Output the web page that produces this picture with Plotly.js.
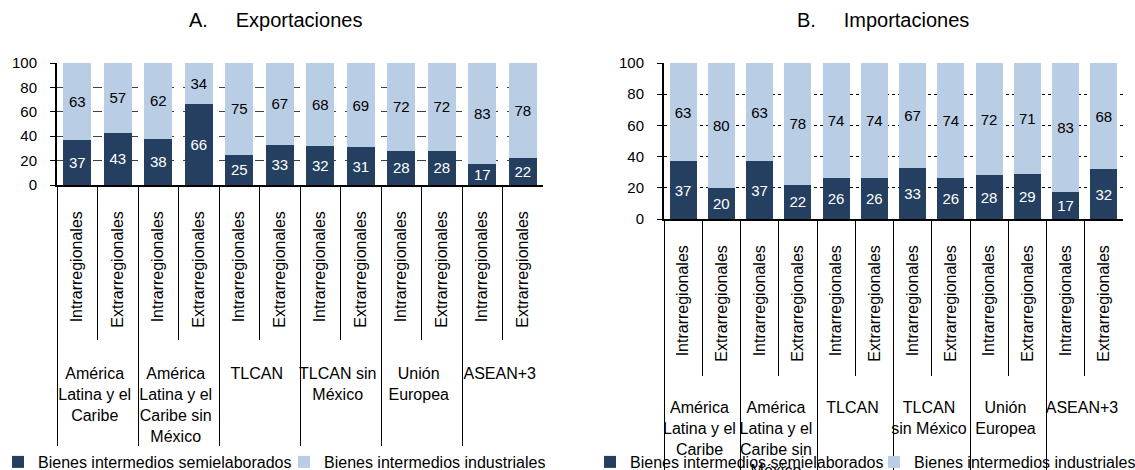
<!DOCTYPE html>
<html>
<head>
<meta charset="utf-8">
<script src="https://cdn.plot.ly/plotly-3.0.1.min.js"></script>
<style>html,body{margin:0;padding:0;background:#fff}#chart{width:1135px;height:470px}</style>
</head>
<body>
<div id="chart"></div>
<script>
const groupsA = ["América<br>Latina y el<br>Caribe", "América<br>Latina y el<br>Caribe sin<br>México", "TLCAN", "TLCAN sin<br>México", "Unión<br>Europea", "ASEAN+3"];
const groupsB = ["América<br>Latina y el<br>Caribe", "América<br>Latina y el<br>Caribe sin<br>México", "TLCAN", "TLCAN<br>sin México", "Unión<br>Europea", "ASEAN+3"];
const flows = ["Intrarregionales", "Extrarregionales"];
const seriesNames = ["Bienes intermedios semielaborados", "Bienes intermedios industriales"];
const exportSemi = [37, 43, 38, 66, 25, 33, 32, 31, 28, 28, 17, 22];
const exportInd  = [63, 57, 62, 34, 75, 67, 68, 69, 72, 72, 83, 78];
const importSemi = [37, 20, 37, 22, 26, 26, 33, 26, 28, 29, 17, 32];
const importInd  = [63, 80, 63, 78, 74, 74, 67, 74, 72, 71, 83, 68];
const titles = ["A.\u00a0\u00a0\u00a0\u00a0\u00a0Exportaciones", "B.\u00a0\u00a0\u00a0\u00a0\u00a0Importaciones"];

const DARK = "#243F60", LIGHT = "#B9CDE5";
const FONT = "Liberation Sans, Arial, sans-serif";
const PAD = "\u00a0\u00a0\u00a0\u00a0";

function multiX(groups) {
  const outer = [], inner = [];
  groups.forEach(g => flows.forEach(f => { outer.push("\u00a0<br>" + g); inner.push(f + PAD); }));
  return [outer, inner];
}
const xA = multiX(groupsA), xB = multiX(groupsB);

function barTrace(x, y, name, color, textColor, xa, ya, legend) {
  return {
    type: "bar", x: x, y: y, name: name, xaxis: xa, yaxis: ya,
    marker: {color: color, line: {width: 0}},
    text: y.map(String), textposition: "inside", insidetextanchor: "middle",
    textangle: 0, constraintext: "none",
    textfont: {color: textColor, size: 15, family: FONT},
    hoverinfo: "skip", legend: legend, showlegend: true
  };
}

const data = [
  barTrace(xA, exportSemi, seriesNames[0], DARK, "#ffffff", "x", "y", "legend"),
  barTrace(xA, exportInd, seriesNames[1], LIGHT, "#000000", "x", "y", "legend2"),
  barTrace(xB, importSemi, seriesNames[0], DARK, "#ffffff", "x2", "y2", "legend3"),
  barTrace(xB, importInd, seriesNames[1], LIGHT, "#000000", "x2", "y2", "legend4")
];

const nCat = exportSemi.length;
const bounds = exportSemi.map((_, i) => i + 0.5).slice(0, nCat - 1);

const W = 1135, H = 470;
const domA = [57 / W, 543 / W], domB = [664 / W, 1123 / W];
const ydomA = [(H - 185) / H, (H - 63) / H], ydomB = [(H - 219) / H, (H - 63) / H];

function xMulti(dom, anchor) {
  return {
    domain: dom, anchor: anchor, type: "multicategory",
    showline: true, linecolor: "#000", linewidth: 2,
    ticks: "",
    tickangle: -90, tickfont: {size: 16, family: FONT, color: "#000"},
    showdividers: true, dividercolor: "#000", dividerwidth: 1,
    showgrid: false, zeroline: false, fixedrange: true
  };
}
function xSep(dom, anchor, over, len) {
  return {
    domain: dom, anchor: anchor, overlaying: over, type: "linear",
    range: [-0.5, nCat - 0.5], tickmode: "array", tickvals: bounds,
    ticks: "outside", ticklen: len, tickcolor: "#000", tickwidth: 1,
    showticklabels: false, showgrid: false, zeroline: false, showline: false
  };
}
function yAx(dom, anchor, dash, gridcolor) {
  return {
    domain: dom, anchor: anchor, range: [0, 100], dtick: 20, tick0: 0,
    showline: true, linecolor: "#000", linewidth: 2,
    ticks: "outside", ticklen: 5, tickcolor: "#000", ticklabelstandoff: 10,
    tickfont: {size: 15, family: FONT, color: "#000"},
    showgrid: true, gridcolor: gridcolor, griddash: dash, gridwidth: 1,
    zeroline: false, fixedrange: true
  };
}
function leg(px, py) {
  return {orientation: "h", x: px / W, y: 1 - py / H, xanchor: "left", yanchor: "middle",
          font: {size: 16, family: FONT, color: "#000"}, itemwidth: 30,
          bgcolor: "rgba(0,0,0,0)", borderwidth: 0};
}

const layout = {
  width: W, height: H, margin: {l: 0, r: 0, t: 0, b: 0, autoexpand: false},
  paper_bgcolor: "#fff", plot_bgcolor: "#fff",
  barmode: "stack", bargap: 0.3,
  font: {family: FONT, size: 15, color: "#000"},
  xaxis: xMulti(domA, "y"),
  yaxis: yAx(ydomA, "x", "dash", "#404040"),
  xaxis2: xMulti(domB, "y2"),
  yaxis2: yAx(ydomB, "x2", "dot", "#000"),
  xaxis3: xSep(domA, "y", "x", 154),
  xaxis4: xSep(domB, "y2", "x2", 156),
  legend: leg(-2, 462),
  legend2: leg(284, 462),
  legend3: leg(590, 462),
  legend4: leg(874, 462),
  annotations: [
    {text: titles[0], xref: "paper", yref: "paper", x: 275 / W, y: 1 - 20 / H, xanchor: "center", yanchor: "middle", showarrow: false, font: {size: 20, family: FONT}},
    {text: titles[1], xref: "paper", yref: "paper", x: 883 / W, y: 1 - 20 / H, xanchor: "center", yanchor: "middle", showarrow: false, font: {size: 20, family: FONT}}
  ]
};

data.push({type: "scatter", x: [0], y: [0], xaxis: "x3", yaxis: "y", mode: "none", showlegend: false, hoverinfo: "skip"});
data.push({type: "scatter", x: [0], y: [0], xaxis: "x4", yaxis: "y2", mode: "none", showlegend: false, hoverinfo: "skip"});

Plotly.newPlot("chart", data, layout, {staticPlot: true});
</script>
</body>
</html>
